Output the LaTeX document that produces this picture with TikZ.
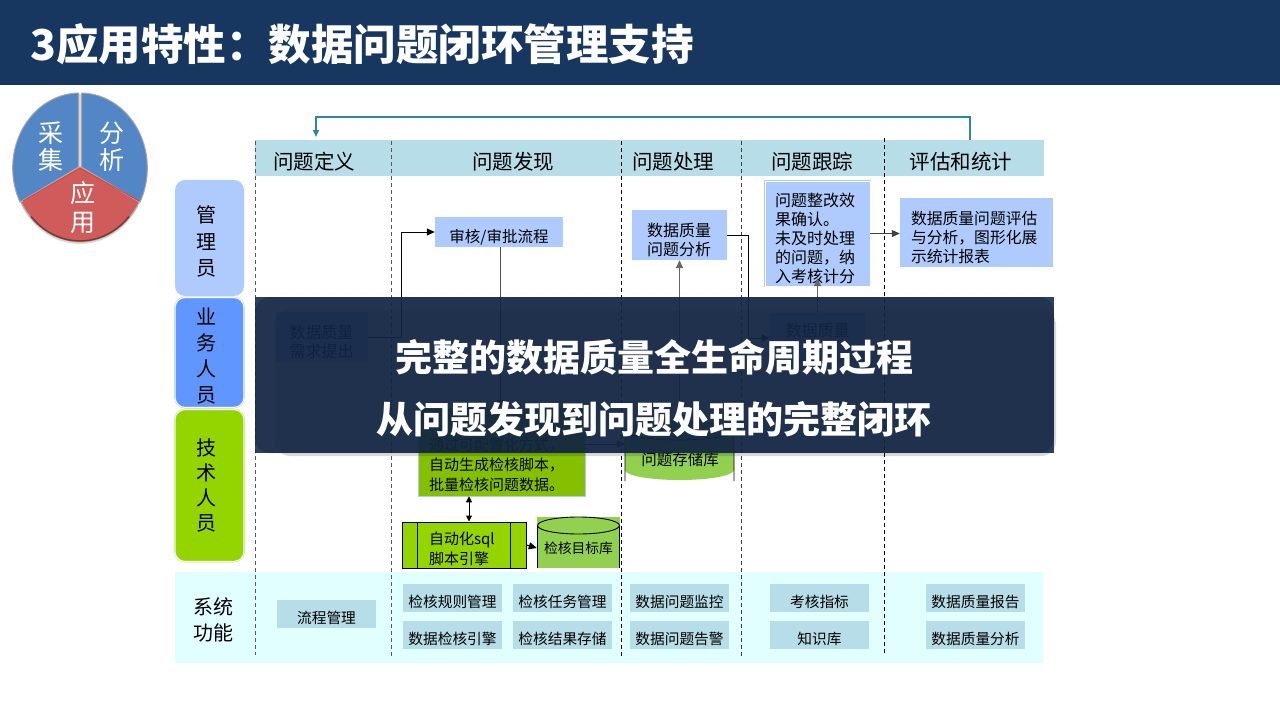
\documentclass[tikz,border=0pt]{standalone}
\usepackage{fontspec}
\setmainfont{Noto Sans CJK SC}
\usetikzlibrary{arrows.meta}
\definecolor{headblue}{HTML}{173760}
\definecolor{phasecyan}{HTML}{B6DDE8}
\definecolor{lightblue}{HTML}{AFCBFE}
\definecolor{midblue}{HTML}{5F96FF}
\definecolor{techgreen}{HTML}{94D500}
\definecolor{darkgreen}{HTML}{85C000}
\definecolor{dbgreen}{HTML}{92D050}
\definecolor{funcbg}{HTML}{E1FFFF}
\definecolor{pieblue}{HTML}{5286C5}
\definecolor{piered}{HTML}{CF5B5B}
\definecolor{loopteal}{HTML}{31859C}
\tikzset{
  x=1pt,y=-1pt,
  lowered/.style={execute at begin node={\rule{0pt}{#1}}},
  phase/.style={font=\fontsize{20.5}{24}\selectfont},
  pietext/.style={white,font=\fontsize{25}{28}\selectfont,inner sep=0pt},
  rolebox/.style={fill=#1,rounded corners=10pt,minimum width=69pt,inner sep=0pt},
  roletext/.style={align=center,inner sep=0pt,font=\fontsize{20}{#1}\selectfont},
  stepbox/.style={fill=lightblue,align=left,text width=65pt,inner sep=0pt,font=\fontsize{16}{19.3}\selectfont,lowered=23.5pt},
  funcbox/.style={fill=phasecyan,align=center,inner sep=0pt,font=\fontsize{14.7}{17}\selectfont,
    minimum width=99pt,minimum height=28pt,lowered=20.5pt},
  lane/.style={dash pattern=on 4pt off 3pt,line width=1pt},
  link/.style={line width=1pt,-{Triangle[length=8pt,width=7pt]}},
  greylink/.style={link,line width=1.5pt,black!60},
  overtext/.style={white,font=\fontsize{37}{42}\bfseries\selectfont},
}
\begin{document}
\begin{tikzpicture}
  \useasboundingbox (0,0) rectangle (1280,720);
  \fill[white] (0,0) rectangle (1280,720);
  \fill[headblue] (0,0) rectangle (1280,85);
  \node[anchor=west,white,inner sep=0pt,font=\fontsize{42.5}{48}\bfseries\selectfont] (title) at (30,44) {3应用特性：数据问题闭环管理支持};

  % 左上角的圆
  \fill[black,opacity=.15] (80,169) ellipse[x radius=67pt,y radius=75pt];
  \filldraw[pieblue,draw=gray!70,line width=1pt] (78.5,167) -- (78.5,93) arc[start angle=91,end angle=207,x radius=67pt,y radius=75pt] -- cycle;
  \filldraw[pieblue,draw=gray!70,line width=1pt] (81.5,167) -- (81.5,93) arc[start angle=89,end angle=-27,x radius=67pt,y radius=75pt] -- cycle;
  \filldraw[piered,draw=gray!60,line width=1pt] (80,167) -- (21,202) arc[start angle=208,end angle=332,x radius=67pt,y radius=75pt] -- cycle;
  \draw[red!30!piered,line width=1pt] (23,201) -- (80,168) -- (139,201);
  \draw[piered!60!black,line width=1.5pt] (31,216.5) arc[start angle=222,end angle=318,x radius=66pt,y radius=74pt];
  \node[pietext] (cai) at (51,133) {采};
  \node[pietext] (ji) at (51,160) {集};
  \node[pietext] (fen) at (112,133) {分};
  \node[pietext] (xi) at (112,160) {析};
  \node[pietext] (ying) at (83,193) {应};
  \node[pietext] (yong) at (83,223) {用};

  % 阶段和泳道
  \fill[phasecyan] (255,140) rectangle (1044,176);
  \fill[funcbg] (175,572) rectangle (1043,663);
  \node[phase] (dingyi) at (314,162) {问题定义};
  \node[phase] (faxian) at (513,162) {问题发现};
  \node[phase] (chuli) at (673,162) {问题处理};
  \node[phase] (genzong) at (812,162) {问题跟踪};
  \node[phase] (pinggu) at (961,162) {评估和统计};
  \foreach \x/\t/\b/\c in {255.5/141/655/black!65,391.5/141/658/black!65,621.5/141/657/black,741.5/141/657/black!75,884.5/138/654/black}
    \draw[lane,\c] (\x,\t) -- (\x,\b);
  \coordinate (loopstart) at (970,140);
  \coordinate (loopend) at (316,137);
  \draw[loopteal,line width=1.6pt,-{Triangle[length=7pt,width=6pt]}] (loopstart) -- ++(0,-23) -| (loopend);

  % 角色
  \node[rolebox=lightblue,minimum height=116pt] (guanli) at (209.5,238) {};
  \node[rolebox=midblue,draw=lightblue,double=white,double distance=.8pt,minimum height=110pt] (yewu) at (209.5,352.5) {};
  \node[rolebox=techgreen,draw=techgreen!60,double=white,double distance=.8pt,minimum height=152pt] (jishu) at (209.5,485.5) {};
  \node[roletext=26.5pt] (guanlitext) at (206,241.5) {管\\理\\员};
  \node[roletext=26pt] (yewutext) at (206,356) {业\\务\\人\\员};
  \node[roletext=25pt] (jishutext) at (206,485.5) {技\\术\\人\\员};
  \node[roletext=25.5pt] (xitong) at (213,620) {系统\\功能};

  % 流程
  \node[stepbox,minimum width=92pt,minimum height=50pt] (xuqiu) at (322,337) {数据质量\\需求提出};
  \node[stepbox,text width=,align=center,minimum width=128pt,minimum height=30pt,font=\fontsize{15.5}{18}\selectfont,lowered=20.5pt] (shenhe) at (499,232) {审核/审批流程};
  \node[stepbox,minimum width=95pt,minimum height=50pt] (fenxi) at (679.5,235) {数据质量\\问题分析};
  \node[stepbox,minimum width=95pt,minimum height=50pt] (zhiliang) at (817.5,338) {};
  \node[font=\fontsize{16}{19}\selectfont,inner sep=0pt] (zhiliangtext) at (817.5,330) {数据质量};
  \node[stepbox,draw=lightblue,double=white,double distance=.8pt,minimum width=105pt,minimum height=105pt,
    text width=85pt,font=\fontsize{16}{19}\selectfont,lowered=19.5pt] (zhenggai) at (817.5,233.5)
    {问题整改效\\果确认。\\未及时处理\\的问题，纳\\入考核计分};
  \node[stepbox,minimum width=153pt,minimum height=69pt,text width=131pt,font=\fontsize{15.8}{19}\selectfont]
    (pingguo) at (976.5,232.5) {数据质量问题评估\\与分析，图形化展\\示统计报表};
  \node[fill=darkgreen,draw=lightblue,line width=.5pt,minimum width=167pt,minimum height=88pt,inner sep=0pt] (jianhe) at (501.5,452) {};
  \node[align=left,text width=145pt,inner sep=0pt,font=\fontsize{15}{19.8}\selectfont] (jianhetext) at (501.5,465)
    {通过可配置化方式，\\自动生成检核脚本，\\批量检核问题数据。};

  % 问题存储库
  \fill[dbgreen] (625,430) -- (625,470) arc[start angle=180,end angle=360,x radius=54.5pt,y radius=10pt] -- (734,430) arc[start angle=0,end angle=180,x radius=54.5pt,y radius=10pt] -- cycle;
  \draw[line width=.8pt] (625,481) -- (625,430) arc[start angle=180,end angle=360,x radius=54.5pt,y radius=10pt] -- (734,481) -- (734,430);
  \node[minimum width=109pt,minimum height=60pt,inner sep=0pt] (cunchu) at (679.5,450) {};
  \node[inner sep=0pt,font=\fontsize{15.5}{18}\selectfont] (cunchutext) at (680,460) {问题存储库};

  % sql 引擎和目标库
  \node[fill=techgreen,draw=black,line width=1pt,minimum width=124pt,minimum height=46pt,inner sep=0pt] (yinqing) at (464,545) {};
  \node[align=left,text width=68pt,inner sep=0pt,font=\fontsize{15}{20}\selectfont] (yinqingtext) at (463,549) {自动化sql\\脚本引擎};
  \draw[line width=1pt] (yinqing.north west) ++(16,0) -- ++(0,46);
  \draw[line width=1pt] (yinqing.north east) ++(-16,0) -- ++(0,46);
  \fill[dbgreen] (537,517) rectangle (620,568);
  \draw[line width=.9pt] (537.5,568) -- (537.5,525.5) arc[start angle=180,end angle=-180,x radius=41pt,y radius=8.5pt];
  \draw[line width=.9pt] (619.5,525.5) -- (619.5,568);
  \node[minimum width=83pt,minimum height=51pt,inner sep=0pt,font=\fontsize{13.8}{17}\selectfont] (mubiao) at (578.5,548) {检核目标库};

  % 连线
  \draw[link] (xuqiu.east) -- ++(33.5,0) |- (shenhe.west);
  \draw[link,black!70] (shenhe.south -| 500,0) -- (500,408);
  \draw[greylink] (cunchu.north) -- (fenxi.south);
  \draw[link] (fenxi.east) -- ++(21,0) |- (zhiliang.west);
  \draw[greylink,shorten >=-8pt] (zhiliang.north) -- (zhenggai.south);
  \draw[link,black!75] (zhenggai.east) -- (zhenggai.east -| pingguo.west);
  \draw[link,black!80] (jianhe.east |- 0,444) -- (cunchu.west |- 0,444);
  \draw[link,{Triangle[length=6pt,width=6pt]}-{Triangle[length=6pt,width=6pt]}] (jianhe.south -| 469,0) -- (yinqing.north -| 469,0);
  \draw[link] (yinqing.east) -- (mubiao.west);

  % 系统功能
  \node[funcbox] (liucheng) at (326.5,614) {流程管理};
  \node[funcbox] (guize) at (452.5,598) {检核规则管理};
  \node[funcbox] (renwu) at (562.5,598) {检核任务管理};
  \node[funcbox] (jiankong) at (679.5,598) {数据问题监控};
  \node[funcbox] (zhibiao) at (819.5,598) {考核指标};
  \node[funcbox] (baogao) at (975.5,598) {数据质量报告};
  \node[funcbox] (yinqingf) at (452.5,634.5) {数据检核引擎};
  \node[funcbox] (jieguo) at (562.5,634.5) {检核结果存储};
  \node[funcbox] (gaojing) at (679.5,634.5) {数据问题告警};
  \node[funcbox] (zhishi) at (819.5,634.5) {知识库};
  \node[funcbox] (fenxif) at (975.5,634.5) {数据质量分析};

  % 遮罩
  \fill[black,opacity=.15,rounded corners=15pt] (275,310) rectangle (1056,456);
  \fill[fill={rgb,255:red,24;green,45;blue,78},opacity=.9] (255,297) rectangle (1054,453);
  \fill[fill={rgb,255:red,7;green,22;blue,46},opacity=.3,rounded corners=15pt] (255,297) rectangle (1054,453);
  \node[overtext] (over1) at (654,357) {完整的数据质量全生命周期过程};
  \node[overtext] (over2) at (654,419) {从问题发现到问题处理的完整闭环};
\end{tikzpicture}
\end{document}
